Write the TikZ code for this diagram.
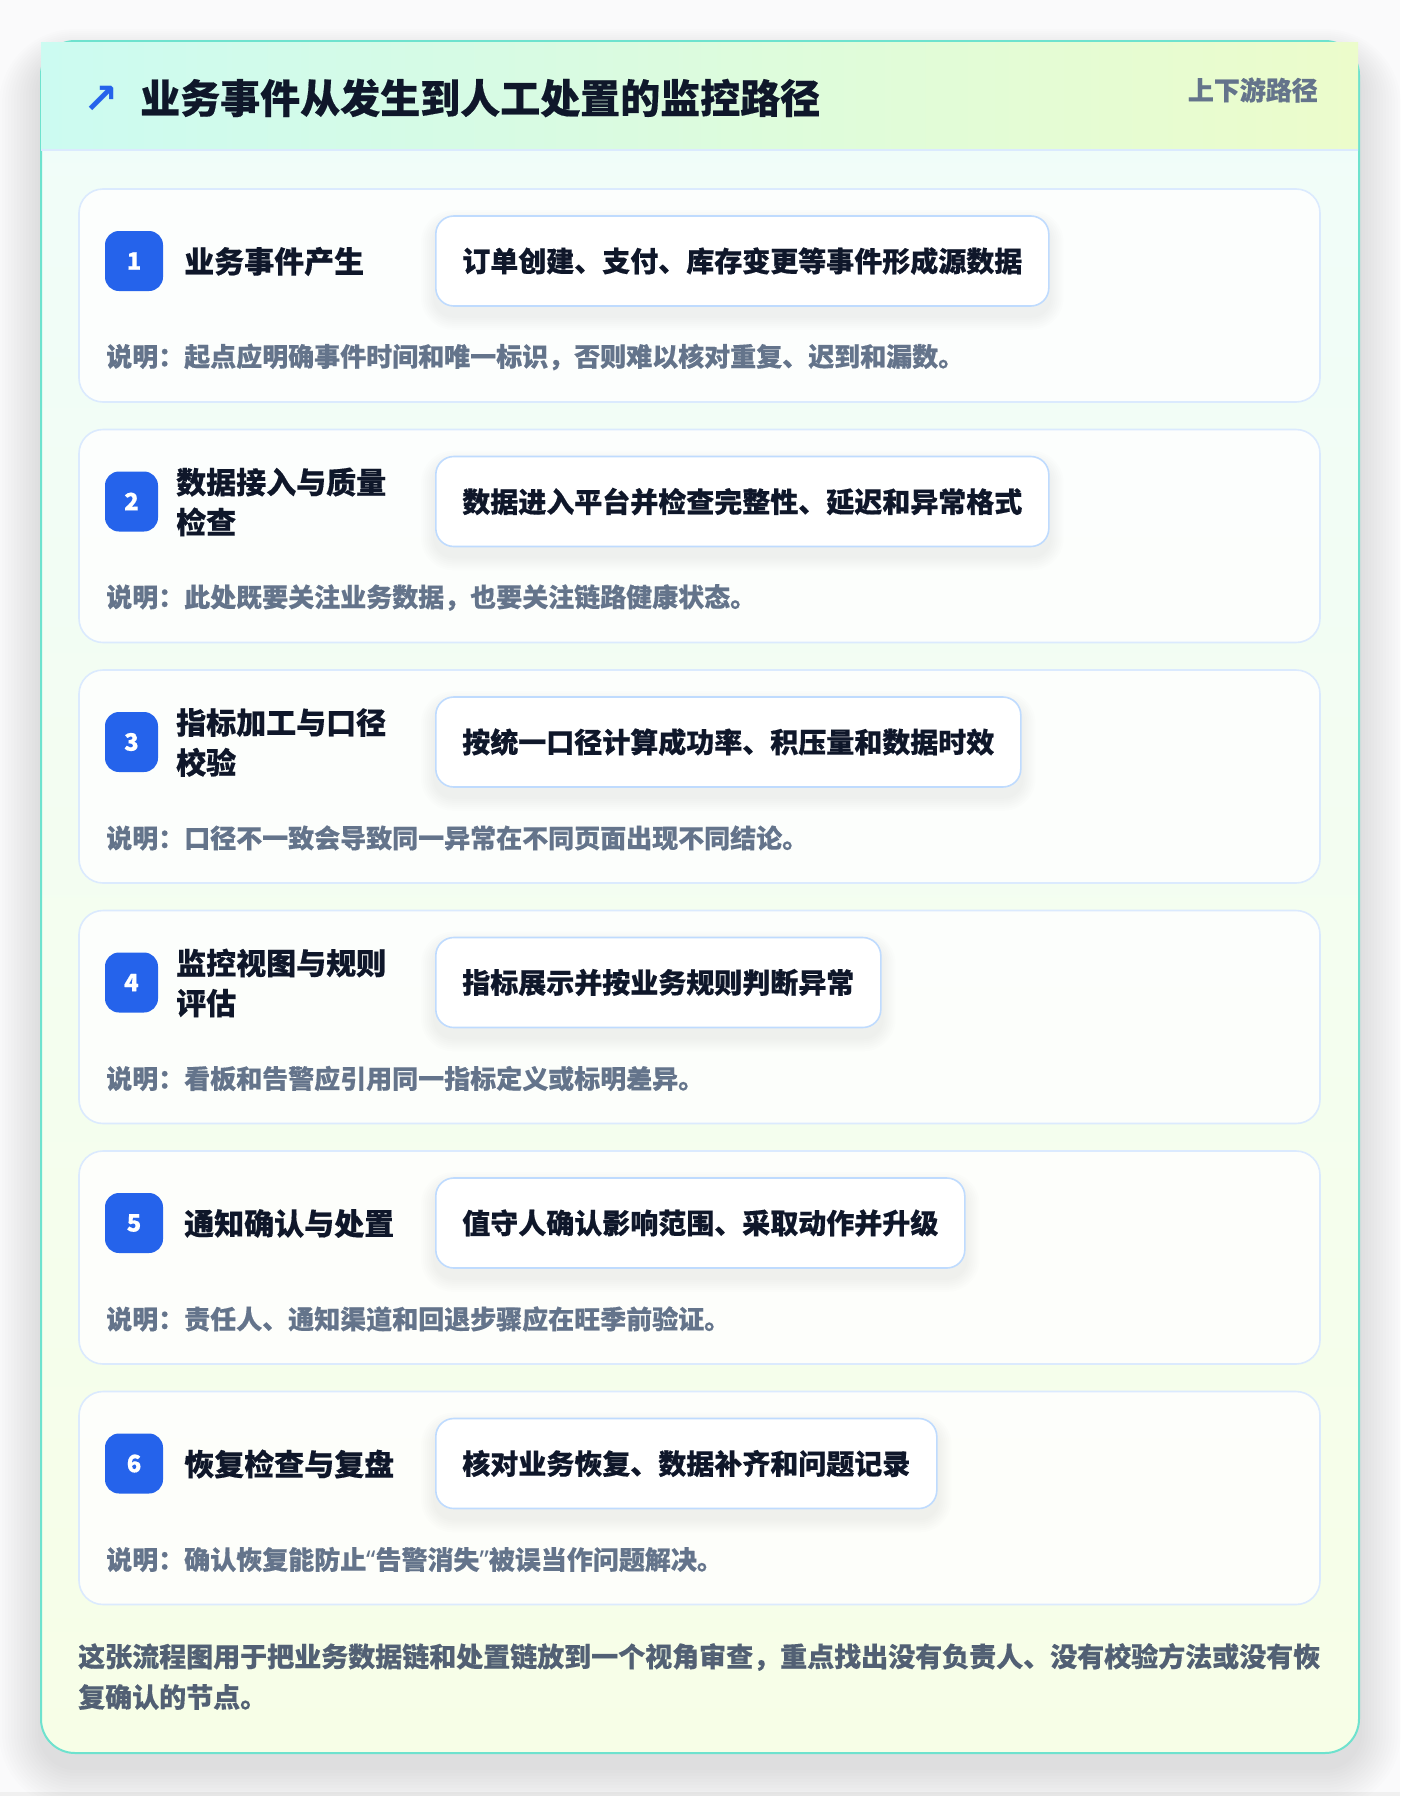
\documentclass[tikz,border=0pt]{standalone}
\usepackage{fontspec}
\setmainfont{Noto Sans CJK SC}[BoldFeatures={FakeBold=0.4}]
\newfontfamily\latinq{Noto Sans}[BoldFeatures={FakeBold=0.4}]
\newfontfamily\symf{DejaVu Sans}
\usetikzlibrary{calc}
\pgfdeclarelayer{cardlayer}
\pgfdeclarelayer{shadowlayer}
\pgfsetlayers{cardlayer,shadowlayer,main}
\definecolor{pagebg}{HTML}{FAFAFB}
\definecolor{tealborder}{HTML}{6EE2CE}
\definecolor{headL}{HTML}{CCFBF1}
\definecolor{headR}{HTML}{ECFCCB}
\definecolor{bodyT}{HTML}{F0FDFA}
\definecolor{bodyB}{HTML}{F7FEE7}
\definecolor{lineblue}{HTML}{DBEAFE}
\definecolor{pillborder}{HTML}{BFDBFE}
\definecolor{ink}{HTML}{0F172A}
\definecolor{notegray}{HTML}{64748B}
\definecolor{footgray}{HTML}{526074}
\definecolor{badgeblue}{HTML}{2563EB}
\tikzset{
  outercard/.style={draw=tealborder, line width=2pt, rounded corners=34pt, top color=bodyT, bottom color=bodyB},
  stepcard/.style={draw=lineblue, line width=1.6pt, rounded corners=24pt, fill=white, fill opacity=0.8},
  pillbox/.style={draw=pillborder, line width=1.6pt, rounded corners=18pt, fill=white, text=ink,
     font=\bfseries\fontsize{28}{34}\selectfont, inner xsep=26.5pt, inner ysep=0pt,
     minimum height=90pt, anchor=west},
  badgebox/.style={fill=badgeblue, rounded corners=14pt, text=white, minimum height=60pt,
     inner sep=0pt, font=\bfseries\fontsize{24}{26}\selectfont},
  steptitle/.style={anchor=west, align=left, text=ink, inner sep=0pt, font=\bfseries\fontsize{30}{40}\selectfont},
  notetext/.style={anchor=west, text=notegray, inner sep=0pt, font=\bfseries\fontsize{26}{32}\selectfont},
  foottext/.style={anchor=west, text=footgray, inner sep=0pt, font=\bfseries\fontsize{27}{40}\selectfont},
  softshade/.style={fill=black, fill opacity=#1},
}
\newcommand{\myLq}{{\latinq “}}
\newcommand{\myRq}{{\latinq ”}}
\begin{document}
\begin{tikzpicture}[x=1pt,y=-1pt]
\useasboundingbox (0,0) rectangle (1400,1796);
\begin{pgfonlayer}{cardlayer}
\fill[pagebg] (0,0) rectangle (1400,1796);
\fill[color=black!6] (0,1792) rectangle (1400,1796);
% outer card soft shadow
\foreach \k in {1,...,14} {
  \path[softshade=0.006, rounded corners=34pt+3*\k] (41-3*\k,41-2*\k+16) rectangle (1359+3*\k,1753+3*\k+14);
}
% outer card
\path[outercard] (41,41) rectangle (1359,1753);
\node[coordinate] (cardTL) at (41,42) {};
\node[coordinate] (cardHR) at (1358,150) {};
\shade[left color=headL, right color=headR] (cardTL) rectangle (cardHR);
\draw[lineblue, line width=1.6pt] (41,150) -- (1358,150);
\end{pgfonlayer}
% header texts
\node[text=badgeblue, inner sep=0pt, font=\symf\bfseries\fontsize{42}{42}\selectfont] (icon) at (101,100) {↗};
\node[anchor=west, inner sep=0pt, text=ink, font=\bfseries\fontsize{40}{48}\selectfont] (title) at (140,98) {业务事件从发生到人工处置的监控路径};
\node[anchor=east, inner sep=0pt, text=notegray, font=\bfseries\fontsize{26}{30}\selectfont] (tag) at (1318,90) {上下游路径};
% steps
\foreach \i/\T/\bw/\tx/\ttl/\pill/\note in {
  1/189/58/184/{业务事件产生}/{订单创建、支付、库存变更等事件形成源数据}/{说明：起点应明确事件时间和唯一标识，否则难以核对重复、迟到和漏数。},
  2/429.5/53/176/{数据接入与质量\\检查}/{数据进入平台并检查完整性、延迟和异常格式}/{说明：此处既要关注业务数据，也要关注链路健康状态。},
  3/670/53/176/{指标加工与口径\\校验}/{按统一口径计算成功率、积压量和数据时效}/{说明：口径不一致会导致同一异常在不同页面出现不同结论。},
  4/910.5/53/176/{监控视图与规则\\评估}/{指标展示并按业务规则判断异常}/{说明：看板和告警应引用同一指标定义或标明差异。},
  5/1151/58/184/{通知确认与处置}/{值守人确认影响范围、采取动作并升级}/{说明：责任人、通知渠道和回退步骤应在旺季前验证。},
  6/1391.5/58/184/{恢复检查与复盘}/{核对业务恢复、数据补齐和问题记录}/{说明：确认恢复能防止\myLq 告警消失\myRq 被误当作问题解决。}}
{
  \begin{pgfonlayer}{cardlayer}
  \path[stepcard] (79,\T) rectangle (1320,\T+213);
  \end{pgfonlayer}
  \node[badgebox, minimum width=\bw pt] (badge\i) at (105+\bw/2,\T+72) {\i};
  \node[steptitle] (stitle\i) at (\tx,\T+72.5) {\ttl};
  \node[pillbox] (pill\i) at (435,\T+72) {\pill};
  \node[notetext] (note\i) at (106,\T+168) {\note};
  \begin{pgfonlayer}{shadowlayer}
  \foreach \k in {1,...,7} {
    \path[softshade=0.007, rounded corners=18pt+2*\k]
      ($(pill\i.north west)+(-2*\k,-2*\k+9)$) rectangle ($(pill\i.south east)+(2*\k,2*\k+9)$);
  }
  \end{pgfonlayer}
}
% footer
\node[foottext] (foot1) at (78,1657) {这张流程图用于把业务数据链和处置链放到一个视角审查，重点找出没有负责人、没有校验方法或没有恢};
\node[foottext] (foot2) at (78,1697) {复确认的节点。};
\end{tikzpicture}
\end{document}
